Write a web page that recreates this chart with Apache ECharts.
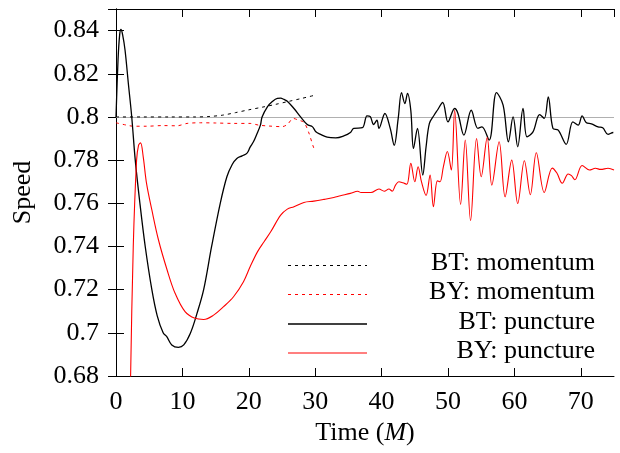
<!DOCTYPE html>
<html>
<head>
<meta charset="utf-8">
<script src="https://cdn.jsdelivr.net/npm/echarts@6/dist/echarts.min.js"></script>
<style>
html,body{margin:0;padding:0;background:#fff;}
#chart{width:620px;height:453px;}
</style>
</head>
<body>
<div id="chart"></div>
<script>
// ---- data (time in M, speed) ----
const xTicks = [0, 10, 20, 30, 40, 50, 60, 70];
const yTicks = [0.68, 0.70, 0.72, 0.74, 0.76, 0.78, 0.80, 0.82, 0.84];
const seriesNames = ['BT: momentum', 'BY: momentum', 'BT: puncture', 'BY: puncture'];

const btMomentum = [[0,0.8],[4,0.8],[8,0.8],[12,0.8],[14,0.8002],[16,0.8008],[18,0.8020],[20,0.8033],[22,0.8045],[24,0.8058],[26,0.8072],[28,0.8086],[30,0.8101]];

const byMomentum = [[0,0.7973],[1.6,0.7962],[2.6,0.7957],[4.6,0.7957],[7,0.7960],[9.2,0.7959],[10.7,0.7970],[12.7,0.7973],[15,0.7972],[17.7,0.7970],[20.2,0.7970],[21.5,0.7962],[23,0.7958],[25,0.7955],[25.8,0.7965],[26.7,0.7993],[27.5,0.7985],[28.3,0.7975],[29.0,0.7930],[29.8,0.7855],[30,0.7850]];

const btPuncture = [[0,0.800],[0.3,0.826],[0.55,0.838],[0.75,0.8405],[1.0,0.838],[1.36,0.831],[1.86,0.8155],[2.37,0.800],[2.9,0.780],[3.6,0.760],[4.4,0.740],[5.4,0.720],[6.2,0.708],[7.1,0.700],[7.65,0.6982],[8.4,0.6944],[9.4,0.6933],[10.2,0.6944],[11.2,0.6998],[12.2,0.709],[13.2,0.720],[14.4,0.740],[15.7,0.760],[16.7,0.7723],[17.5,0.778],[18.2,0.7808],[19.0,0.782],[19.7,0.7831],[20.2,0.786],[20.7,0.7885],[21.2,0.792],[21.75,0.7962],[22.0,0.800],[22.8,0.8047],[23.5,0.807],[24.3,0.8086],[24.8,0.8087],[25.3,0.8081],[25.8,0.8073],[26.8,0.8039],[27.8,0.8000],[28.8,0.7965],[29.6,0.7954],[30.1,0.7931],[30.8,0.7919],[31.8,0.7906],[33.1,0.7903],[34.3,0.7912],[35.3,0.7928],[35.8,0.7947],[37.1,0.7950],[37.8,0.8005],[38.3,0.8001],[38.8,0.7965],[39.3,0.7985],[39.6,0.7947],[40.5,0.8016],[41.3,0.7947],[41.9,0.7869],[42.5,0.7993],[43.0,0.8113],[43.5,0.8062],[43.9,0.8109],[44.4,0.8030],[44.8,0.7854],[45.4,0.7947],[46.2,0.7731],[46.7,0.7862],[47.2,0.7970],[47.9,0.8008],[48.4,0.8031],[49.2,0.8067],[50.0,0.7977],[51.0,0.8039],[51.5,0.8016],[52.4,0.7916],[53.5,0.8031],[54.5,0.7947],[55.1,0.7954],[56.2,0.7893],[57.3,0.8113],[58.3,0.8055],[59.1,0.7885],[59.8,0.8000],[60.5,0.7862],[61.3,0.8039],[61.9,0.7908],[62.8,0.7931],[63.8,0.8011],[64.5,0.7993],[65.1,0.8093],[65.8,0.7947],[66.6,0.7939],[67.8,0.7873],[68.8,0.7977],[69.6,0.7962],[70.2,0.8005],[70.8,0.7974],[71.6,0.7968],[72.6,0.7954],[73.3,0.7950],[74.1,0.7919],[74.9,0.7928],[75,0.7928]];

const byPuncture = [[1.9,0.62],[2.2,0.68],[2.6,0.740],[3.1,0.780],[3.4,0.787],[3.7,0.788],[4.1,0.7815],[4.6,0.7692],[5.4,0.7569],[6.4,0.743],[7.7,0.7291],[8.9,0.7183],[10.4,0.7098],[11.9,0.7067],[13.2,0.7062],[14.7,0.7082],[16.2,0.7121],[17.7,0.7167],[19.2,0.7237],[20.2,0.7306],[21.3,0.7375],[22.3,0.7422],[23.3,0.7468],[24.8,0.7545],[25.8,0.7573],[26.8,0.7584],[28.3,0.7604],[29.8,0.7610],[31.3,0.7618],[32.8,0.7627],[33.8,0.7635],[35.3,0.7646],[36.4,0.7656],[36.9,0.7650],[38.4,0.7650],[39.6,0.7666],[40.4,0.7656],[41.1,0.7666],[41.6,0.7656],[42.1,0.7684],[42.6,0.7700],[43.2,0.7695],[43.8,0.7688],[44.4,0.7785],[45.0,0.7700],[45.5,0.7769],[46.0,0.7700],[46.7,0.7636],[47.3,0.7731],[47.8,0.7584],[48.4,0.7704],[48.8,0.7700],[49.3,0.7769],[49.9,0.7840],[50.5,0.7754],[51.0,0.8031],[51.9,0.7595],[52.6,0.7893],[53.4,0.7520],[54.3,0.7900],[55.0,0.7723],[55.9,0.7905],[56.6,0.7684],[57.7,0.7885],[58.6,0.7630],[59.6,0.7800],[60.5,0.7599],[61.5,0.7797],[62.4,0.7640],[63.3,0.7834],[64.5,0.7650],[65.7,0.7763],[66.4,0.7740],[67.2,0.7693],[68.1,0.7736],[68.6,0.7728],[69.1,0.7709],[70.2,0.7775],[71.3,0.7754],[72.2,0.7762],[73.0,0.7757],[74.1,0.7762],[75,0.7754]];

// ---- chart ----
const FONT = '"Liberation Serif", "DejaVu Serif", serif';
const FS = 26;
const chart = echarts.init(document.getElementById('chart'), null, {renderer: 'canvas'});

const fmtY = v => String(+(+v).toFixed(2));
const baseAxisLine = {show: true, lineStyle: {color: '#000', width: 1}};
const tickStyle = {show: true, inside: true, length: 8, lineStyle: {color: '#000', width: 1}};

const option = {
  animation: false,
  backgroundColor: '#fff',
  grid: {left: 116, right: 6, top: 9, bottom: 77, containLabel: false},
  xAxis: [
    {
      type: 'value', min: 0, max: 75, interval: 10,
      name: 'Time ({i|M})', nameLocation: 'middle', nameGap: 42,
      nameTextStyle: {fontFamily: FONT, fontSize: FS, color: '#000',
        rich: {i: {fontFamily: FONT, fontSize: FS, fontStyle: 'italic', color: '#000'}}},
      axisLine: baseAxisLine, axisTick: tickStyle, splitLine: {show: false},
      axisLabel: {fontFamily: FONT, fontSize: FS, color: '#000', margin: 13, showMaxLabel: false,
        formatter: v => xTicks.indexOf(v) >= 0 ? String(v) : ''}
    },
    {
      type: 'value', position: 'top', min: 0, max: 75, interval: 10,
      axisLine: baseAxisLine, axisTick: tickStyle, splitLine: {show: false},
      axisLabel: {show: false}
    }
  ],
  yAxis: [
    {
      type: 'value', min: 0.68, max: 0.85, interval: 0.02,
      name: 'Speed', nameLocation: 'middle', nameGap: 80, nameRotate: 90,
      nameTextStyle: {fontFamily: FONT, fontSize: FS, color: '#000'},
      axisLine: baseAxisLine, axisTick: tickStyle, splitLine: {show: false},
      axisLabel: {fontFamily: FONT, fontSize: FS, color: '#000', margin: 17, showMaxLabel: false,
        formatter: v => {
          const s = fmtY(v);
          return yTicks.some(t => Math.abs(t - v) < 1e-6) ? s : '';
        }}
    },
    {
      type: 'value', position: 'right', min: 0.68, max: 0.85, interval: 0.02,
      axisLine: baseAxisLine, axisTick: tickStyle, splitLine: {show: false},
      axisLabel: {show: false}
    }
  ],
  series: [
    {
      name: seriesNames[0], type: 'line', data: btMomentum, showSymbol: false, symbol: 'none',
      smooth: 0.3, lineStyle: {color: '#000', width: 1, type: [3, 4]}, z: 3,
      markLine: {silent: true, symbol: 'none', label: {show: false},
        lineStyle: {color: '#b0b0b0', width: 1, type: 'solid'}, data: [{yAxis: 0.8}], z: 1}
    },
    {
      name: seriesNames[1], type: 'line', data: byMomentum, showSymbol: false, symbol: 'none',
      smooth: 0.3, lineStyle: {color: '#ff0000', width: 1, type: [3, 4]}, z: 3
    },
    {
      name: seriesNames[2], type: 'line', data: btPuncture, showSymbol: false, symbol: 'none',
      smooth: 0.35, lineStyle: {color: '#000', width: 1.3}, z: 4
    },
    {
      name: seriesNames[3], type: 'line', data: byPuncture, showSymbol: false, symbol: 'none',
      smooth: 0.35, lineStyle: {color: '#ff0000', width: 1.1}, z: 4, clip: true
    }
  ],
  graphic: []
};

// legend drawn as graphic (line sample left, right-aligned text)
const legendStyles = [
  {stroke: '#000', lineWidth: 1, lineDash: [3, 4]},
  {stroke: '#ff0000', lineWidth: 1, lineDash: [3, 4]},
  {stroke: '#000', lineWidth: 1.3},
  {stroke: '#ff0000', lineWidth: 1.1}
];
const legendRowY = [265.5, 294.5, 324, 353];
seriesNames.forEach((n, i) => {
  option.graphic.push({
    type: 'line', z: 10,
    shape: {x1: 288, y1: legendRowY[i], x2: 367, y2: legendRowY[i]},
    style: legendStyles[i]
  });
  option.graphic.push({
    type: 'text', z: 10, x: 595, y: legendRowY[i] - 2,
    style: {text: n, fontFamily: FONT, fontSize: FS, fill: '#000', align: 'right', verticalAlign: 'middle'}
  });
});

chart.setOption(option);
</script>
</body>
</html>
